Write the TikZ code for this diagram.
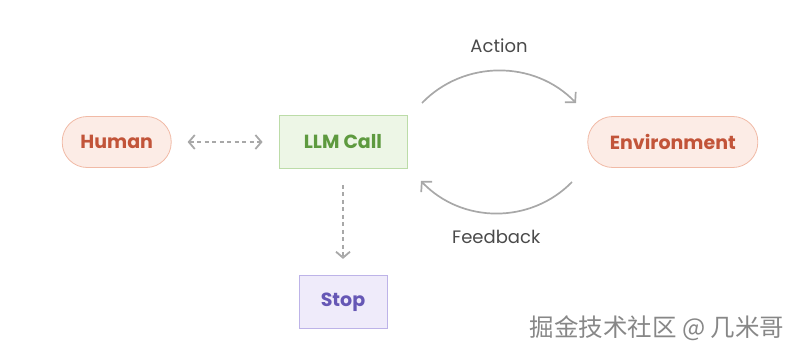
\documentclass[tikz,border=0pt]{standalone}
\usepackage{fontspec}
\setmainfont{Poppins}
\newfontfamily\cjkfont{Noto Sans CJK SC}
\usepackage{xcolor}
\usepackage{tikz}
\usetikzlibrary{arrows.meta,positioning}
\definecolor{ink}{RGB}{74,74,74}
\definecolor{arrowgray}{RGB}{168,168,168}
\definecolor{pillfill}{RGB}{252,236,230}
\definecolor{pillline}{RGB}{241,186,166}
\definecolor{pilltext}{RGB}{194,84,57}
\definecolor{llmfill}{RGB}{237,246,230}
\definecolor{llmline}{RGB}{188,220,168}
\definecolor{llmtext}{RGB}{94,154,63}
\definecolor{stopfill}{RGB}{239,235,250}
\definecolor{stopline}{RGB}{189,179,232}
\definecolor{stoptext}{RGB}{102,87,181}
\definecolor{markgray}{RGB}{135,135,135}
\tikzset{
  boxfont/.style={font=\fontsize{19}{23}\selectfont\bfseries},
  pill/.style={boxfont,draw=pillline,fill=pillfill,text=pilltext,
    rounded corners=25pt,minimum height=51pt,line width=0.8pt},
  llmbox/.style={boxfont,draw=llmline,fill=llmfill,text=llmtext,
    minimum width=128pt,minimum height=53pt,line width=0.8pt},
  stopbox/.style={boxfont,draw=stopline,fill=stopfill,text=stoptext,
    minimum width=88pt,minimum height=53pt,line width=0.8pt},
  optional/.style={line width=1.8pt,arrowgray,dash pattern=on 4pt off 3.5pt,
    shorten <=16pt,shorten >=16pt},
  loop/.style={line width=1.7pt,arrowgray,-{Straight Barb[length=7pt,width=15pt]}},
  label/.style={font=\fontsize{18}{22}\selectfont,text=ink,inner sep=0pt},
  watermark/.style={font=\cjkfont\fontsize{24.5}{28}\selectfont,text=markgray}
}
\begin{document}
\begin{tikzpicture}[x=1pt,y=1pt,node distance=106pt]
  \useasboundingbox (0,0) rectangle (801,357);
  \node[llmbox] (llm) at (343,215) {LLM Call};
  \node[pill,minimum width=109pt,left=107pt of llm] (human) {Human};
  \node[pill,minimum width=170pt,right=180pt of llm] (env) {Environment};
  \node[stopbox,below=of llm] (stop) {Stop};
  % human in the loop and the exit
  \draw[optional,{Straight Barb[length=6pt,width=14pt]}-{Straight Barb[length=6pt,width=14pt]}]
    (human) -- (llm);
  \draw[optional,-{Straight Barb[length=6pt,width=14pt]}] (llm) -- (stop);
  % action / feedback loop
  \coordinate (act-a) at (422,254);
  \coordinate (act-b) at (576,254);
  \coordinate (fb-a) at (572,175);
  \coordinate (fb-b) at (421,176);
  \draw[loop] (act-a) to[bend left=46] node[label,above=17pt] {Action} (act-b);
  \draw[loop] (fb-a) to[bend left=46] node[label,below=16pt] {Feedback} (fb-b);
  \node[watermark] (mark) at (657,29) {掘金技术社区 @ 几米哥};
\end{tikzpicture}
\end{document}
